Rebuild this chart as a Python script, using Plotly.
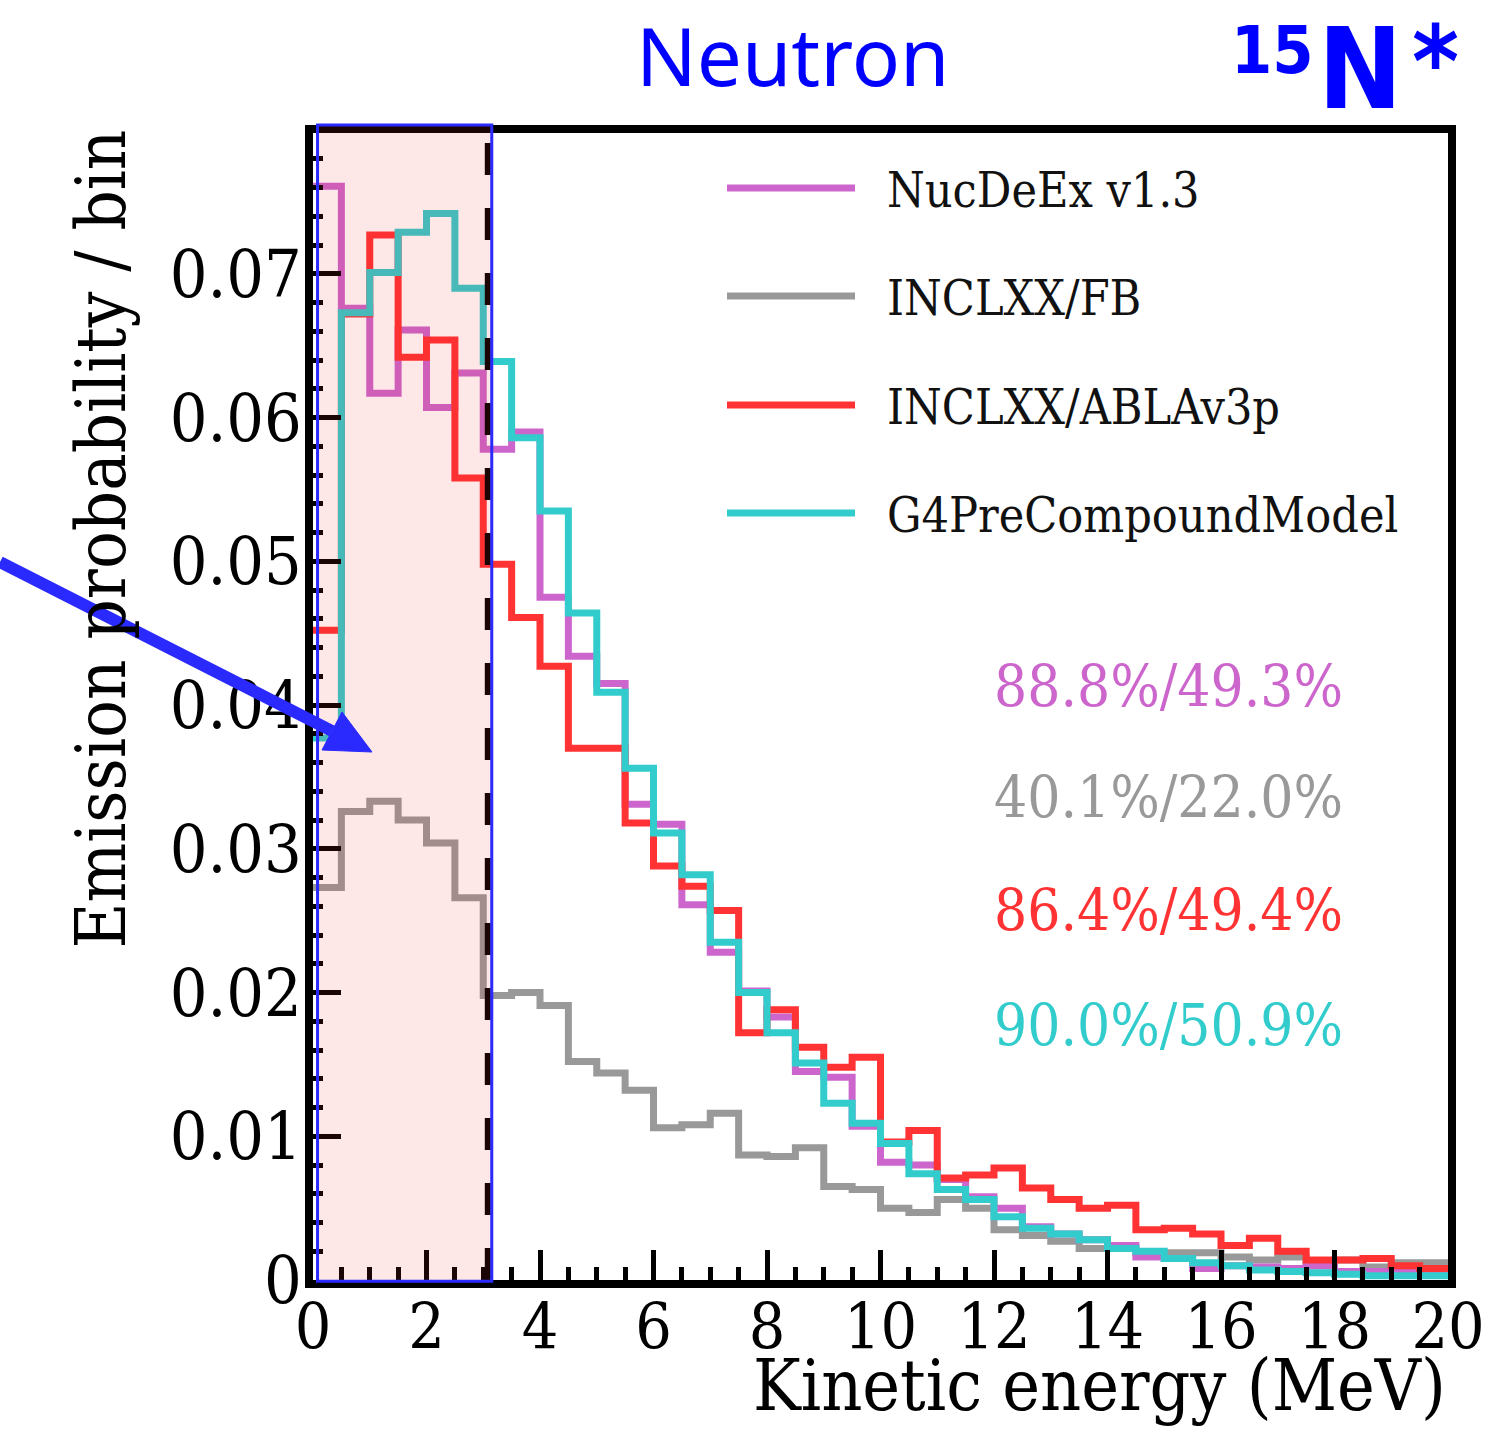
import numpy as np
import plotly.graph_objects as go

# 0.5 MeV bins from 0 to 20 MeV
bin_edges = np.linspace(0.0, 20.0, 41)

nucdeex = [0.0761, 0.0676, 0.0617, 0.0661, 0.0607, 0.0631, 0.0578, 0.0590, 0.0475, 0.0434,
           0.0415, 0.0331, 0.0317, 0.0261, 0.0228, 0.0201, 0.0183, 0.0145, 0.0141, 0.0107,
           0.0082, 0.0080, 0.0070, 0.0058, 0.0050, 0.0037, 0.0032, 0.0028, 0.0024, 0.0016,
           0.0015, 0.0008, 0.0010, 0.0009, 0.0008, 0.0010, 0.0006, 0.0006, 0.0007, 0.0004]

inclxx_fb = [0.0273, 0.0326, 0.0333, 0.0320, 0.0304, 0.0266, 0.0198, 0.0200, 0.0191, 0.0152,
             0.0144, 0.0132, 0.0106, 0.0108, 0.0116, 0.0087, 0.0086, 0.0092, 0.0065, 0.0063,
             0.0050, 0.0047, 0.0056, 0.0050, 0.0035, 0.0031, 0.0027, 0.0022, 0.0022, 0.0019,
             0.0019, 0.0019, 0.0016, 0.0014, 0.0016, 0.0010, 0.0014, 0.0009, 0.0012, 0.0012]

inclxx_abla = [0.0452, 0.0672, 0.0727, 0.0642, 0.0654, 0.0558, 0.0498, 0.0461, 0.0427, 0.0370,
               0.0370, 0.0318, 0.0288, 0.0274, 0.0257, 0.0172, 0.0188, 0.0162, 0.0148, 0.0155,
               0.0096, 0.0104, 0.0071, 0.0073, 0.0078, 0.0064, 0.0056, 0.0050, 0.0052, 0.0035,
               0.0036, 0.0032, 0.0024, 0.0029, 0.0020, 0.0014, 0.0014, 0.0015, 0.0010, 0.0008]

g4precompound = [0.0377, 0.0673, 0.0701, 0.0729, 0.0742, 0.0690, 0.0639, 0.0586, 0.0535, 0.0464,
                 0.0409, 0.0356, 0.0311, 0.0282, 0.0235, 0.0200, 0.0172, 0.0151, 0.0123, 0.0109,
                 0.0095, 0.0074, 0.0063, 0.0056, 0.0044, 0.0036, 0.0032, 0.0028, 0.0022, 0.0020,
                 0.0015, 0.0012, 0.0010, 0.0007, 0.0006, 0.0005, 0.0004, 0.0003, 0.0003, 0.0003]

model_names = ["NucDeEx v1.3", "INCLXX/FB", "INCLXX/ABLAv3p", "G4PreCompoundModel"]
model_colors = ["#cc66cc", "#999999", "#ff3333", "#33cccc"]
fractions = ["88.8%/49.3%", "40.1%/22.0%", "86.4%/49.4%", "90.0%/50.9%"]
series = [nucdeex, inclxx_fb, inclxx_abla, g4precompound]

# highlighted low-energy window (MeV)
window_lo, window_hi, cut_line = 0.08, 3.15, 3.08

SERIF = "DejaVu Serif Condensed, DejaVu Serif, serif"
SANS = "Noto Sans, Open Sans, sans-serif"
BOLD_SANS = "DejaVu Sans Condensed, DejaVu Sans, sans-serif"
W, H = 1510, 1432
L, R, T, B = 313, 1448, 133, 1280


def fx(p):
    return (p - L) / (R - L)


def fy(p):
    return (B - p) / (B - T)


fig = go.Figure()

draw_order = [1, 0, 2, 3]
for i in draw_order:
    vals = list(series[i]) + [series[i][-1]]
    fig.add_trace(go.Scatter(
        x=bin_edges, y=vals, mode="lines",
        line=dict(color=model_colors[i], width=7, shape="hv"),
        showlegend=False, hoverinfo="skip",
    ))

shapes = []
# dashed cut line
shapes.append(dict(type="line", xref="x", yref="y domain", x0=cut_line, x1=cut_line,
                   y0=0, y1=1, line=dict(color="black", width=6, dash="32px,33px"),
                   layer="above"))
# shaded window
shapes.append(dict(type="rect", xref="x", yref="y domain", x0=window_lo, x1=window_hi,
                   y0=-0.001, y1=1.007, fillcolor="rgba(240,40,40,0.11)",
                   line=dict(color="#2a2aff", width=3), layer="above"))

# arrow pointing at the window
tail = (0, 562)
tip = (372, 752)
base_a = (342, 712)
base_b = (322, 750)
base_mid = ((base_a[0] + base_b[0]) / 2, (base_a[1] + base_b[1]) / 2)
shapes.append(dict(type="line", xref="paper", yref="paper",
                   x0=fx(tail[0]), y0=fy(tail[1]), x1=fx(base_mid[0]), y1=fy(base_mid[1]),
                   line=dict(color="#2a2aff", width=12), layer="above"))
shapes.append(dict(type="path", xref="paper", yref="paper",
                   path=f"M{fx(tip[0])},{fy(tip[1])} L{fx(base_a[0])},{fy(base_a[1])} "
                        f"L{fx(base_b[0])},{fy(base_b[1])} Z",
                   fillcolor="#2a2aff", line=dict(color="#2a2aff", width=1), layer="above"))

# legend drawn as lines + labels
legend_y = [188, 296, 405, 513]
for name, col, yy in zip(model_names, model_colors, legend_y):
    shapes.append(dict(type="line", xref="paper", yref="paper",
                       x0=fx(727), x1=fx(855), y0=fy(yy), y1=fy(yy),
                       line=dict(color=col, width=7)))

annotations = []
for name, yy in zip(model_names, legend_y):
    annotations.append(dict(text=name, xref="paper", yref="paper", x=fx(885), y=fy(yy + 2),
                            xanchor="left", yanchor="middle", showarrow=False,
                            font=dict(family=SERIF, size=48, color="#111111")))

frac_y = [686, 797, 910, 1025]
for txt, col, yy in zip(fractions, model_colors, frac_y):
    annotations.append(dict(text=txt, xref="paper", yref="paper", x=fx(1345), y=fy(yy),
                            xanchor="right", yanchor="middle", showarrow=False,
                            font=dict(family=SERIF, size=58, color=col)))

annotations.append(dict(text="Neutron", xref="paper", yref="paper", x=fx(793), y=fy(55),
                        xanchor="center", yanchor="middle", showarrow=False,
                        font=dict(family=SANS, size=80, color="#0000ff")))
# nucleus label: superscript mass number, element, excitation star
annotations.append(dict(text="<b>15</b>", xref="paper", yref="paper", x=fx(1272), y=fy(10),
                        xanchor="center", yanchor="top", showarrow=False,
                        font=dict(family=BOLD_SANS, size=66, color="#0000ff")))
annotations.append(dict(text="<b>N</b>", xref="paper", yref="paper", x=fx(1360), y=fy(2),
                        xanchor="center", yanchor="top", showarrow=False,
                        font=dict(family=BOLD_SANS, size=112, color="#0000ff")))
annotations.append(dict(text="<b>*</b>", xref="paper", yref="paper", x=fx(1435), y=fy(2),
                        xanchor="center", yanchor="top", showarrow=False,
                        font=dict(family=BOLD_SANS, size=100, color="#0000ff")))

annotations.append(dict(text="Emission probability / bin", xref="paper", yref="paper",
                        x=fx(100), y=fy(128), xanchor="center", yanchor="top",
                        textangle=-90, showarrow=False,
                        font=dict(family=SERIF, size=70, color="black")))
annotations.append(dict(text="Kinetic energy (MeV)", xref="paper", yref="paper",
                        x=fx(1448), y=fy(1385), xanchor="right", yanchor="middle",
                        showarrow=False,
                        font=dict(family=SERIF, size=71, color="black")))

fig.update_layout(
    width=W, height=H,
    margin=dict(l=L, r=W - R, t=T, b=H - B),
    paper_bgcolor="white", plot_bgcolor="white",
    shapes=shapes, annotations=annotations,
    showlegend=False,
)

fig.update_xaxes(
    range=[0, 20], showgrid=False, zeroline=False,
    showline=True, linecolor="black", linewidth=8, mirror=True,
    ticks="inside", ticklen=30, tickwidth=5, tickcolor="black",
    tick0=0, dtick=2, ticklabelstandoff=-16,
    minor=dict(ticks="inside", ticklen=13, tickwidth=5, tickcolor="black", dtick=0.5),
    tickfont=dict(family=SERIF, size=64, color="black"),
)
fig.update_yaxes(
    range=[0, 0.0798], showgrid=False, zeroline=False,
    showline=True, linecolor="black", linewidth=8, mirror=True,
    ticks="inside", ticklen=28, tickwidth=5, tickcolor="black",
    tick0=0, dtick=0.01, ticklabelstandoff=-10,
    minor=dict(ticks="inside", ticklen=10, tickwidth=5, tickcolor="black", dtick=0.002),
    tickfont=dict(family=SERIF, size=66, color="black"),
)

fig.write_html("out.html")
